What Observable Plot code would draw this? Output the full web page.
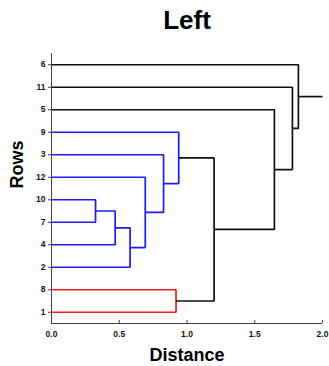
<!DOCTYPE html>
<html>
<head>
<meta charset="utf-8">
<script src="https://cdn.jsdelivr.net/npm/d3@7"></script>
<script src="https://cdn.jsdelivr.net/npm/@observablehq/plot@0.6"></script>
<style>
html, body { margin: 0; padding: 0; background: #fff; }
#chart svg { display: block; }
</style>
</head>
<body>
<div id="chart"></div>
<script>
// Leaves, bottom to top as drawn on the y axis
const leafLabels = ["1", "8", "2", "4", "7", "10", "12", "3", "9", "5", "11", "6"];
// Merges (in order): two children (leaf labels or earlier merge ids "m0".."m10"), distance, cluster
const mergeLeft   = ["10", "m0", "m1", "m2", "m3", "m4", "8",    "m5",  "m7",   "m8",   "m9"];
const mergeRight  = ["7",  "4",  "2",  "12", "3",  "9",  "1",    "m6",  "5",    "11",   "6"];
const mergeHeight = [0.325, 0.47, 0.58, 0.692, 0.827, 0.939, 0.919, 1.20, 1.645, 1.778, 1.822];
const mergeGroup  = ["C1", "C1", "C1", "C1", "C1", "C1", "C2", "above", "above", "above", "above"];
const rootTailEnd = 2.0;
const xTicks = [0, 0.5, 1.0, 1.5, 2.0];
const groupNames = ["C1", "C2", "above"];
const groupColors = ["#1a1aff", "#ff1a1a", "#111111"];

// Build node positions
const nodes = new Map();
leafLabels.forEach((l, i) => nodes.set(l, {x: 0, y: i}));
const legs = [];
mergeHeight.forEach((h, k) => {
  const a = nodes.get(mergeLeft[k]), b = nodes.get(mergeRight[k]);
  const node = {x: h, y: (a.y + b.y) / 2};
  nodes.set("m" + k, node);
  [a, b].forEach((c, j) => {
    const id = `m${k}-${j}`;
    legs.push({id, group: mergeGroup[k], x: c.x, y: c.y});
    legs.push({id, group: mergeGroup[k], x: h, y: c.y});
    legs.push({id, group: mergeGroup[k], x: h, y: node.y});
  });
});
const root = nodes.get("m" + (mergeHeight.length - 1));
legs.push({id: "root", group: "above", x: root.x, y: root.y});
legs.push({id: "root", group: "above", x: rootTailEnd, y: root.y});

const font = "'Liberation Sans', Arial, Helvetica, sans-serif";
const chart = Plot.plot({
  width: 329,
  height: 366,
  marginLeft: 51,
  marginRight: 7,
  marginTop: 53,
  marginBottom: 43,
  style: {fontFamily: font, background: "#fff"},
  x: {domain: [0, 2]},
  y: {domain: [-0.5, leafLabels.length - 0.5]},
  color: {domain: groupNames, range: groupColors},
  marks: [
    Plot.line(legs, {x: "x", y: "y", z: "id", stroke: "group", strokeWidth: 1.7, strokeLinejoin: "miter", strokeLinecap: "butt"}),
    Plot.ruleX([0], {stroke: "#444", strokeWidth: 1}),
    Plot.ruleY([-0.5], {stroke: "#444", strokeWidth: 1}),
    Plot.axisY({ticks: d3.range(leafLabels.length), tickFormat: i => leafLabels[i], tickSize: 3, tickPadding: 3, fontSize: 8.5, fontWeight: "bold", stroke: "#444", fill: "#111", label: null}),
    Plot.axisX({ticks: xTicks, tickFormat: d3.format(".1f"), tickSize: -3, tickPadding: 10, fontSize: 8.5, fontWeight: "bold", stroke: "#444", fill: "#111", label: null}),
    Plot.text(["Left"], {frameAnchor: "top", dy: -33, lineAnchor: "middle", fontSize: 26, fontWeight: "bold", fill: "#000"}),
    Plot.text(["Distance"], {frameAnchor: "bottom", dy: 31.5, lineAnchor: "middle", fontSize: 18, fontWeight: "bold", fill: "#000"}),
    Plot.text(["Rows"], {frameAnchor: "left", dx: -34, rotate: -90, lineAnchor: "middle", fontSize: 18, fontWeight: "bold", fill: "#000"})
  ]
});
document.getElementById("chart").append(chart);
</script>
</body>
</html>
